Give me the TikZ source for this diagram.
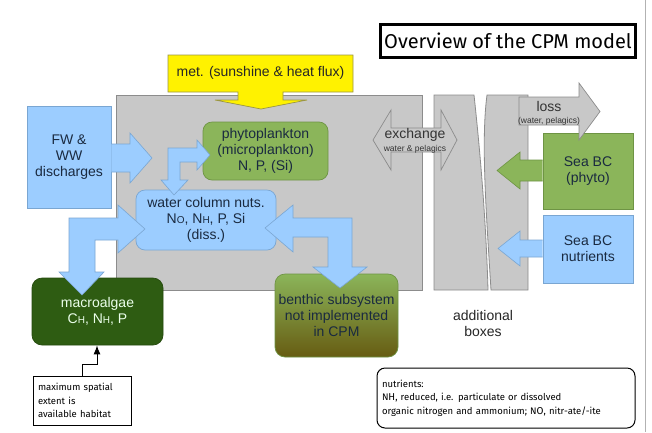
\documentclass[tikz,border=0pt]{standalone}
\usepackage{fontspec}
\setmainfont{Liberation Sans}
\newfontfamily\notefont{Fira Sans}
\usetikzlibrary{arrows.meta,shapes.geometric}
\definecolor{lblue}{HTML}{9CCDFF}
\definecolor{lblueb}{HTML}{7AA6D2}
\definecolor{pgreen}{HTML}{8BB55A}
\definecolor{pgreenb}{HTML}{6E9444}
\definecolor{dgreen}{HTML}{2E5C12}
\definecolor{olivebot}{HTML}{675C12}
\definecolor{greyf}{HTML}{C8C8C8}
\definecolor{greyb}{HTML}{8C8C8C}
\definecolor{txt}{HTML}{1A2A40}
\newcommand\smc[1]{{\fontsize{10}{10}\selectfont #1}}
\begin{document}
\begin{tikzpicture}[x=1pt,y=-1pt,
  maintext/.style={font=\fontsize{14}{16}\selectfont, text=txt, align=center},
  bluebox/.style={fill=lblue, draw=lblueb, line width=0.7pt},
  greenbox/.style={fill=pgreen, draw=pgreenb, line width=0.7pt},
  bluearrow/.style={fill=lblue, draw=lblueb, line width=0.6pt, line join=miter},
  greyarrow/.style={fill=greyf, draw=greyb, line width=0.7pt},
  greyshape/.style={fill=greyf, draw=greyb, line width=0.8pt},
  notebox/.style={draw=black, line width=1pt, fill=white, font=\notefont\fontsize{9.5}{13.5}\selectfont, align=left, inner sep=0pt}
]
\useasboundingbox (0,0) rectangle (652,432);
\fill[white] (0,0) rectangle (652,432);
\draw[black!30, line width=0.8pt] (645,0) -- (645,432);

% grey model area and additional boxes
\draw[greyshape] (116,95) rectangle (422,290);
\draw[greyshape] (434,95) -- (474,95) .. controls (480,150) and (486,220) .. (488,290) -- (434,290) -- cycle;
\draw[greyshape] (487,95) -- (528,95) -- (528,290) -- (491,290) .. controls (486,210) and (481,140) .. (487,95) -- cycle;

% title
\node[draw=black, line width=2.2pt, fill=white, minimum width=255pt, minimum height=33pt, inner sep=0pt,
  font=\notefont\fontsize{20}{24}\selectfont] (title) at (508,41) {Overview of the CPM model};

% met arrow
\draw[fill=yellow, draw=black!45!yellow, line width=0.7pt]
  (168,55) -- (353,55) -- (353,92) -- (283,92) -- (283,100) -- (307,100) -- (261,109)
  -- (215,100) -- (238,100) -- (238,92) -- (168,92) -- cycle;
\node[maintext, text=black!85] (met) at (260.5,73) {met. (sunshine \& heat flux)};

% exchange arrow
\draw[greyarrow] (373,140) -- (391,110) -- (391,128) -- (441,128) -- (441,110) -- (457,140)
  -- (441,170) -- (441,152) -- (391,152) -- (391,170) -- cycle;
\node[maintext, text=black!80] (exch) at (415,135) {exchange};
\node[font=\fontsize{8.5}{9}\selectfont, text=black!80, inner sep=0pt] (exchs) at (415,149) {water \& pelagics};

% FW box
\node[bluebox, minimum width=84pt, minimum height=102pt, inner sep=0pt, maintext] (fw) at (69,157)
  {FW \&\\WW\\discharges};
\draw[bluearrow] (fw.east |- 0,144) -- (130,144) -- (130,133) -- (152,158) -- (130,183) -- (130,172) -- (fw.east |- 0,172);

% phytoplankton
\node[greenbox, rounded corners=9pt, minimum width=125pt, minimum height=58pt, inner sep=0pt, maintext] (phyto) at (265.5,151)
  {phytoplankton\\(microplankton)\\N, P, (Si)};

% water column
\node[bluebox, rounded corners=9pt, minimum width=140pt, minimum height=60pt, inner sep=0pt, maintext] (wcol) at (206,220)
  {water column nuts.\\N\smc{O}, N\smc{H}, P, Si\\(diss.)};

% macroalgae
\node[fill=dgreen, draw=dgreen!80!black, line width=0.7pt, rounded corners=10pt, minimum width=131pt, minimum height=67pt,
  inner sep=0pt, maintext, text=white!92!green] (macro) at (97.5,311.5) {macroalgae\\C\smc{H}, N\smc{H}, P};

% benthic
\node[top color=pgreen, bottom color=olivebot, draw=pgreenb, line width=0.7pt, rounded corners=10pt,
  minimum width=123pt, minimum height=83pt, inner sep=0pt, maintext] (benth) at (336.5,315.5)
  {benthic subsystem\\not implemented\\in CPM};

% Sea BC boxes
\node[greenbox, minimum width=90pt, minimum height=76pt, inner sep=0pt, maintext] (bcphyto) at (588,171) {Sea BC\\(phyto)};
\node[bluebox, minimum width=90pt, minimum height=68pt, inner sep=0pt, maintext] (bcnut) at (588,249) {Sea BC\\nutrients};

% arrows from Sea BC
\draw[fill=pgreen, draw=pgreenb, line width=0.6pt] (bcphyto.west |- 0,160) -- (520,160) -- (520,152) -- (497,170.5) -- (520,189) -- (520,181) -- (bcphyto.west |- 0,181);
\draw[bluearrow] (bcnut.west |- 0,240) -- (520,240) -- (520,231) -- (498,248.5) -- (520,266) -- (520,257) -- (bcnut.west |- 0,257);

% loss arrow
\draw[greyarrow] (519,97) -- (579,97) -- (579,83) -- (600,111.5) -- (579,140) -- (579,125) -- (519,125) -- cycle;
\node[maintext, text=black!80] (loss) at (549,106) {loss};
\node[font=\fontsize{8.5}{9}\selectfont, text=black!80, inner sep=0pt] (losss) at (549,121) {(water, pelagics)};

% phyto <-> water column arrow
\draw[bluearrow] (174,195) -- (188,180) -- (180,180) -- (180,162) -- (197,162) -- (197,170) -- (210,155)
  -- (197,140) -- (197,148) -- (168,148) -- (168,180) -- (161,180) -- cycle;

% water column <-> macroalgae arrow
\draw[bluearrow] (145,229) -- (118,253) -- (118,240) -- (95,240) -- (95,272) -- (104,272) -- (82,295)
  -- (59,272) -- (69,272) -- (69,218) -- (118,218) -- (118,205) -- cycle;

% water column <-> benthic arrow
\draw[bluearrow] (265,228) -- (293,205) -- (293,218) -- (352,218) -- (352,267) -- (367,267) -- (340,288)
  -- (313,267) -- (328,267) -- (328,237) -- (293,237) -- (293,252) -- cycle;

% additional boxes label
\node[maintext, text=black!85] (addl) at (483,323) {additional\\boxes};

% habitat note
\node[notebox, minimum width=98pt, minimum height=49pt, text width=88pt] (note) at (82,400.5)
  {maximum spatial\\extent is\\available habitat};
\coordinate (mk) at (97,0);
\draw[black, line width=1pt, -{Latex[length=9pt,width=7pt]}] (note.north) -- ++(0,-11) -| (macro.south -| mk);

% nutrients note
\node[notebox, rounded corners=8pt, minimum width=258pt, minimum height=60pt, text width=248pt] (nut) at (506,398)
  {nutrients:\\N\smc{H}, reduced, i.e. particulate or dissolved\\organic nitrogen and ammonium; N\smc{O}, nitr-ate/-ite};
\end{tikzpicture}
\end{document}
